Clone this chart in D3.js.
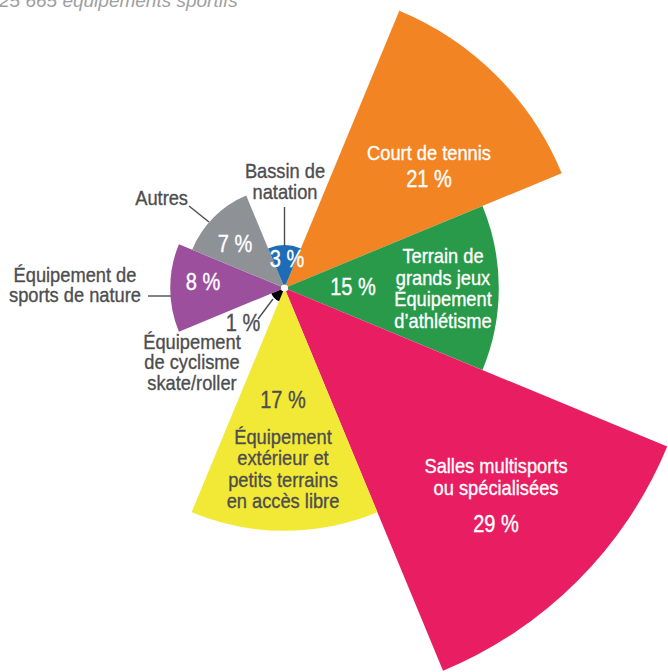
<!DOCTYPE html>
<html>
<head>
<meta charset="utf-8">
<script src="https://cdn.jsdelivr.net/npm/d3@7"></script>
<style>
  html, body { margin: 0; padding: 0; background: #fff; }
  svg { display: block; }
  .lbl { font-family: "Liberation Sans", Arial, sans-serif; }
</style>
</head>
<body>
<svg id="chart" width="668" height="672"></svg>
<script>
// ---- data ----
const categories = [
  "Court de tennis",
  "Terrain de grands jeux Équipement d’athlétisme",
  "Salles multisports ou spécialisées",
  "Équipement extérieur et petits terrains en accès libre",
  "Équipement de cyclisme skate/roller",
  "Équipement de sports de nature",
  "Autres",
  "Bassin de natation"
];
const values = [21, 15, 29, 17, 1, 8, 7, 3];
const colors = ["#F28424", "#289A49", "#E91D62", "#F2E937", "#000000", "#9B4F9D", "#8E9196", "#1E6CB5"];
const subtitle = "25 665 équipements sportifs";

// ---- layout (positions / styles only) ----
const cx = 284.5, cy = 288;
const svg = d3.select("#chart");
const g = svg.append("g").attr("transform", `translate(${cx},${cy})`);

const r = d3.scaleLinear().domain([0, 21]).range([0, 300]);
const step = 2 * Math.PI / values.length;
const a0 = Math.PI / 8; // 22.5°

const slices = values.map((v, i) => ({
  cat: categories[i], value: v, color: colors[i],
  startAngle: a0 + i * step, endAngle: a0 + (i + 1) * step
}));

const arc = d3.arc().innerRadius(0).outerRadius(d => r(d.value));

g.selectAll("path.slice").data(slices).join("path")
  .attr("class", "slice")
  .attr("d", arc)
  .attr("fill", d => d.color);

g.append("circle").attr("r", 3.6).attr("fill", "#fff");

// subtitle
svg.append("text")
  .attr("x", -1).attr("y", 7)
  .attr("font-family", "Liberation Sans, Arial, sans-serif")
  .attr("font-style", "italic")
  .attr("font-size", 19)
  .attr("fill", "#9d9fa2")
  .text(subtitle);

const dark = "#4d4d4f";
const SX = 0.87; // condensed look
// label layout
const labelLayout = [
  {lines: ["Court de tennis"], x: 429, y: 160, lh: 22, fill: "#fff", fs: 21},
  {lines: ["21 %"], x: 429, y: 187.5, lh: 22, fill: "#fff", fs: 23},
  {lines: ["Terrain de", "grands jeux", "Équipement", "d’athlétisme"], x: 443, y: 263, lh: 21.7, fill: "#fff", fs: 21},
  {lines: ["15 %"], x: 353, y: 295, lh: 22, fill: "#fff", fs: 23},
  {lines: ["Salles multisports", "ou spécialisées"], x: 496, y: 473, lh: 22, fill: "#fff", fs: 21},
  {lines: ["29 %"], x: 496, y: 532, lh: 22, fill: "#fff", fs: 23},
  {lines: ["17 %"], x: 283, y: 408, lh: 22, fill: dark, fs: 23},
  {lines: ["Équipement", "extérieur et", "petits terrains", "en accès libre"], x: 283, y: 444, lh: 21.3, fill: dark, fs: 21},
  {lines: ["1 %"], x: 243, y: 331, lh: 22, fill: dark, fs: 23},
  {lines: ["Équipement", "de cyclisme", "skate/roller"], x: 192, y: 349, lh: 20.5, fill: dark, fs: 21},
  {lines: ["8 %"], x: 203, y: 290, lh: 22, fill: "#fff", fs: 23},
  {lines: ["Équipement de", "sports de nature"], x: 75, y: 282, lh: 20.5, fill: dark, fs: 21},
  {lines: ["7 %"], x: 235, y: 252, lh: 22, fill: "#fff", fs: 23},
  {lines: ["Autres"], x: 188, y: 205, lh: 22, fill: dark, fs: 21, anchor: "end"},
  {lines: ["3 %"], x: 287, y: 267, lh: 22, fill: "#fff", fs: 23},
  {lines: ["Bassin de", "natation"], x: 285, y: 178, lh: 21, fill: dark, fs: 21}
];

const labels = svg.append("g");
labelLayout.forEach(L => {
  const t = labels.append("g")
    .attr("transform", `translate(${L.x},0) scale(${SX},1)`)
    .append("text")
    .attr("class", "lbl")
    .attr("text-anchor", L.anchor || "middle")
    .attr("font-size", L.fs)
    .attr("fill", L.fill)
    .attr("stroke", L.fill)
    .attr("stroke-width", 0.35);
  L.lines.forEach((ln, k) => {
    t.append("tspan").attr("x", 0).attr("y", L.y + k * L.lh).text(ln);
  });
});

// leader lines
const leaders = [
  [[284.5, 207], [284.5, 246]],
  [[189, 206], [209, 222]],
  [[148, 296], [171, 296]],
  [[258, 319], [273, 299]]
];
svg.append("g").selectAll("path").data(leaders).join("path")
  .attr("d", d3.line())
  .attr("stroke", dark).attr("stroke-width", 1.4).attr("fill", "none");
</script>
</body>
</html>
